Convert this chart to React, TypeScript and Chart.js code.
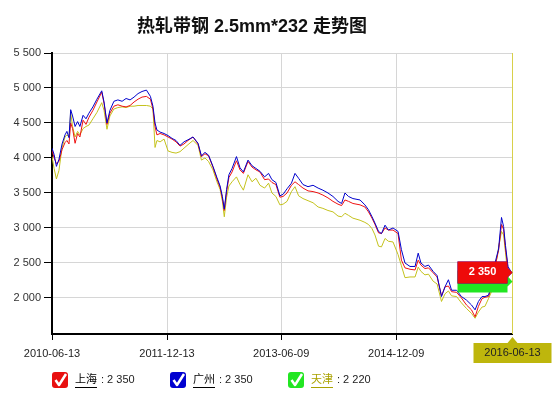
import { useEffect, useRef } from 'react';
import Chart from 'chart.js/auto';

const titleText = '热轧带钢 2.5mm*232 走势图';
const startDate = '2010-06-13';
const endDate = '2016-06-13';
const xTickDates = ['2010-06-13', '2011-12-13', '2013-06-09', '2014-12-09'];
const yTicks = [2000, 2500, 3000, 3500, 4000, 4500, 5000, 5500];
const seriesNames = ['上海', '广州', '天津'];

// days since startDate
const dayOffsets = [
  0, 10, 21, 33, 48, 62, 71, 81, 89, 98, 110, 122, 133, 148, 162, 176, 195, 214, 237, 248,
  262, 276, 295, 314, 334, 353, 372, 391, 410, 429, 450, 469, 481, 491, 500, 515, 534, 553, 572, 591,
  610, 629, 648, 672, 696, 712, 729, 746, 767, 786, 801, 812, 821, 832, 843, 858, 879, 896, 912, 934,
  953, 972, 991, 1013, 1032, 1048, 1067, 1086, 1101, 1120, 1141, 1158, 1175, 1196, 1220, 1244, 1268, 1291, 1315, 1339,
  1363, 1380, 1396, 1413, 1434, 1468, 1491, 1508, 1525, 1539, 1556, 1570, 1587, 1603, 1625, 1649, 1665, 1682, 1706, 1730,
  1745, 1758, 1777, 1794, 1816, 1835, 1856, 1873, 1889, 1904, 1928, 1951, 1975, 1999, 2016, 2032, 2049, 2063, 2080, 2096,
  2111, 2128, 2142, 2152, 2161, 2173, 2192,
];

const shanghai = [
  4110, 4000, 3920, 3950, 4120, 4220, 4250, 4200, 4500, 4420, 4210, 4350, 4300, 4540, 4480, 4580, 4680, 4800, 4940, 4780,
  4480, 4640, 4740, 4760, 4740, 4730, 4750, 4800, 4840, 4870, 4880, 4840, 4700, 4450, 4330, 4350, 4330, 4300, 4270, 4230,
  4170, 4200, 4250, 4300, 4200, 4020, 4060, 4030, 3870, 3700, 3580, 3420, 3250, 3520, 3720, 3800, 3960, 3830, 3780, 3950,
  3870, 3830, 3800, 3690, 3700, 3650, 3620, 3440, 3450, 3500, 3610, 3660, 3620, 3570, 3530, 3520, 3500, 3470, 3430, 3380,
  3340, 3320, 3400, 3380, 3350, 3330, 3300, 3230, 3140, 3050, 2930, 2920, 3000, 2970, 2970, 2920, 2540, 2430, 2410, 2400,
  2540, 2470, 2420, 2430, 2360, 2300, 2030, 2160, 2170, 2090, 2080, 2000, 1900, 1830, 1730, 1880, 1990, 2010, 2020, 2150,
  2450, 2680, 3050, 2980, 2700, 2420, 2350,
];

const guangzhou = [
  4140, 4050, 3880, 3980, 4200, 4330, 4380, 4290, 4690, 4600, 4450, 4520, 4450, 4610, 4560, 4640, 4730, 4840, 4960, 4800,
  4500, 4680, 4810, 4830, 4810, 4850, 4830, 4870, 4920, 4950, 4970, 4880, 4740, 4500, 4400, 4370, 4350, 4320, 4280, 4250,
  4180, 4230, 4260, 4300, 4210, 4030, 4080, 4040, 3880, 3720, 3600, 3450, 3270, 3550, 3760, 3850, 4020, 3860, 3800, 3970,
  3890, 3850, 3810, 3730, 3780, 3690, 3650, 3460, 3480, 3560, 3640, 3780, 3710, 3620, 3590, 3610, 3570, 3540, 3500, 3450,
  3380, 3350, 3500, 3450, 3420, 3400, 3330, 3260, 3160, 3070, 2950, 2920, 3040, 2970, 3000, 2950, 2690, 2500, 2450, 2450,
  2640, 2500, 2450, 2470, 2380, 2320, 2020, 2160, 2260, 2110, 2110, 2020, 1970, 1900, 1830, 1950, 2020, 2020, 2040, 2200,
  2500, 2700, 3150, 3020, 2750, 2450, 2350,
];

const tianjin = [
  4020, 3850, 3700, 3820, 4150, 4300, 4330, 4300, 4650, 4450, 4300, 4380, 4330, 4420, 4450, 4470, 4560, 4650, 4790, 4680,
  4410, 4600, 4700, 4720, 4730, 4720, 4740, 4740, 4750, 4750, 4750, 4740, 4700, 4150, 4250, 4230, 4270, 4100, 4080, 4070,
  4090, 4140, 4190, 4250, 4180, 3970, 4000, 3950, 3830, 3660, 3550, 3380, 3160, 3440, 3600, 3660, 3730, 3620, 3540, 3760,
  3660, 3710, 3610, 3570, 3640, 3500, 3450, 3330, 3340, 3380, 3520, 3590, 3460, 3420, 3390, 3360, 3300, 3280, 3250, 3230,
  3170, 3160, 3210, 3180, 3140, 3110, 3080, 3050, 2990, 2900, 2740, 2730, 2850, 2810, 2800, 2620, 2460, 2290, 2300, 2300,
  2440, 2380, 2330, 2340, 2240, 2200, 1950, 2060, 2100, 2030, 2020, 1930, 1850, 1780, 1710, 1800, 1870, 1880, 1990, 2100,
  2400, 2720, 2950, 2900, 2650, 2300, 2220,
];

const seriesValues = [shanghai, guangzhou, tianjin];
const lineColors = ['#ee1111', '#0000cc', '#c4c21c'];
const boxColors = ['#ee0a0a', '#0000dd', '#22e622'];
const checkColors = ['#e81010', '#0000d0', '#22e622'];
const labelColors = ['#000000', '#000000', '#aaa200'];

const FONT = '"Liberation Sans", Arial, "Noto Sans CJK SC", sans-serif';

const fmt = (v: number) => String(Math.round(v)).replace(/\B(?=(\d{3})+(?!\d))/g, ' ');
const dayOf = (s: string) => Math.round((Date.parse(s) - Date.parse(startDate)) / 86400000);
const dateOf = (d: number) => new Date(Date.parse(startDate) + d * 86400000).toISOString().slice(0, 10);

const overlayPlugin = {
  id: 'overlay',
  afterDraw(chart: any) {
    const ctx = chart.ctx as CanvasRenderingContext2D;
    const { chartArea, scales } = chart;
    const lastDay = dayOffsets[dayOffsets.length - 1];
    const cx = Math.round(scales.x.getPixelForValue(lastDay)) + 0.5;
    ctx.save();

    // title
    ctx.fillStyle = '#111';
    ctx.font = 'bold 18px ' + FONT;
    ctx.textAlign = 'center';
    ctx.textBaseline = 'alphabetic';
    ctx.fillText(titleText, 252, 32);

    // crosshair
    ctx.strokeStyle = '#d8d04a';
    ctx.lineWidth = 1;
    ctx.beginPath();
    ctx.moveTo(cx, chartArea.top);
    ctx.lineTo(cx, chartArea.bottom);
    ctx.stroke();

    // last value boxes (tianjin, guangzhou, shanghai on top)
    const boxOrder = [2, 1, 0];
    boxOrder.forEach((i, k) => {
      const vals = seriesValues[i];
      const v = vals[vals.length - 1];
      const cy = scales.y.getPixelForValue(v) - 1;
      const tip = cx;
      const right = tip - 5;
      const left = tip - 55;
      ctx.fillStyle = boxColors[i];
      ctx.beginPath();
      ctx.moveTo(left, cy - 11);
      ctx.lineTo(right, cy - 11);
      ctx.lineTo(right, cy - 5);
      ctx.lineTo(tip, cy);
      ctx.lineTo(right, cy + 5);
      ctx.lineTo(right, cy + 11);
      ctx.lineTo(left, cy + 11);
      ctx.closePath();
      ctx.fill();
      if (k === boxOrder.length - 1) {
        ctx.fillStyle = '#fff';
        ctx.font = 'bold 11px ' + FONT;
        ctx.textAlign = 'center';
        ctx.textBaseline = 'middle';
        ctx.fillText(fmt(v), (left + right) / 2, cy);
      }
    });

    // date box below axis
    const by = chartArea.bottom + 9;
    ctx.fillStyle = '#beb60c';
    ctx.beginPath();
    ctx.moveTo(cx - 39, by);
    ctx.lineTo(cx - 5, by);
    ctx.lineTo(cx, by - 6);
    ctx.lineTo(cx + 5, by);
    ctx.lineTo(cx + 39, by);
    ctx.lineTo(cx + 39, by + 20);
    ctx.lineTo(cx - 39, by + 20);
    ctx.closePath();
    ctx.fill();
    ctx.fillStyle = '#222';
    ctx.font = '11px ' + FONT;
    ctx.textAlign = 'center';
    ctx.textBaseline = 'middle';
    ctx.fillText(dateOf(dayOf(endDate)), cx, by + 10);

    // legend
    const legendX = [52, 170, 288];
    const ly = 372;
    seriesNames.forEach((name, i) => {
      const x = legendX[i];
      ctx.fillStyle = checkColors[i];
      ctx.beginPath();
      ctx.roundRect(x, ly, 16, 16, 3);
      ctx.fill();
      ctx.strokeStyle = '#fff';
      ctx.lineWidth = 2.5;
      ctx.lineJoin = 'round';
      ctx.beginPath();
      ctx.moveTo(x + 3.5, ly + 8);
      ctx.lineTo(x + 7, ly + 13);
      ctx.lineTo(x + 14, ly + 2);
      ctx.stroke();

      ctx.font = '11px ' + FONT;
      ctx.textAlign = 'left';
      ctx.textBaseline = 'middle';
      ctx.fillStyle = labelColors[i];
      const tx = x + 23;
      ctx.fillText(name, tx, ly + 8);
      const w = ctx.measureText(name).width;
      ctx.strokeStyle = labelColors[i];
      ctx.lineWidth = 1;
      ctx.beginPath();
      ctx.moveTo(tx, ly + 15.5);
      ctx.lineTo(tx + w, ly + 15.5);
      ctx.stroke();
      const vals = seriesValues[i];
      ctx.fillStyle = '#222';
      ctx.fillText(': ' + fmt(vals[vals.length - 1]), tx + w + 4, ly + 8);
    });

    ctx.restore();
  },
};

const App = () => {
  const chartRef = useRef<HTMLCanvasElement>(null);
  const chartInstance = useRef<Chart | null>(null);

  useEffect(() => {
    document.body.style.margin = '0';
    if (!chartRef.current) return;
    if (chartInstance.current) chartInstance.current.destroy();

    Chart.defaults.font.family = FONT;

    const ctx = chartRef.current.getContext('2d');
    if (!ctx) return;

    // draw order: guangzhou on top, tianjin at the bottom
    const drawOrder = [1, 0, 2];

    chartInstance.current = new Chart(ctx, {
      type: 'line',
      data: {
        datasets: seriesNames.map((name, i) => ({
          label: name,
          data: seriesValues[i].map((v, j) => ({ x: dayOffsets[j], y: v })),
          borderColor: lineColors[i],
          backgroundColor: lineColors[i],
          borderWidth: 1,
          pointRadius: 0,
          tension: 0,
          fill: false,
          order: drawOrder[i],
        })),
      },
      options: {
        responsive: false,
        animation: false,
        events: [],
        layout: { padding: { top: 53, right: 46, bottom: 0, left: 0 } },
        plugins: {
          legend: { display: false },
          title: { display: false },
          tooltip: { enabled: false },
        },
        scales: {
          x: {
            type: 'linear',
            min: 0,
            max: dayOf(endDate),
            afterBuildTicks: (s: any) => {
              s.ticks = xTickDates.map((d) => ({ value: dayOf(d) }));
            },
            afterFit: (s: any) => {
              s.height = 66;
            },
            ticks: {
              autoSkip: false,
              maxRotation: 0,
              padding: 7,
              color: '#222',
              font: { size: 11 },
              callback: (v: any) => dateOf(Number(v)),
            },
            grid: { color: '#d6d6d6', tickColor: '#000', tickLength: 6 },
            border: { color: '#000', width: 2 },
          },
          y: {
            min: 1485,
            max: 5500,
            afterBuildTicks: (s: any) => {
              s.ticks = yTicks.map((v) => ({ value: v }));
            },
            afterFit: (s: any) => {
              s.width = 52;
            },
            ticks: {
              padding: 3,
              color: '#333',
              font: { size: 11 },
              callback: (v: any) => fmt(Number(v)),
            },
            grid: { color: '#d6d6d6', tickColor: '#000', tickLength: 8 },
            border: { color: '#000', width: 2 },
          },
        },
      },
      plugins: [overlayPlugin],
    });

    return () => {
      if (chartInstance.current) {
        chartInstance.current.destroy();
        chartInstance.current = null;
      }
    };
  }, []);

  return (
    <div style={{ width: 558, height: 400, background: '#fff' }}>
      <canvas ref={chartRef} width={558} height={400} />
    </div>
  );
};

export default App;
